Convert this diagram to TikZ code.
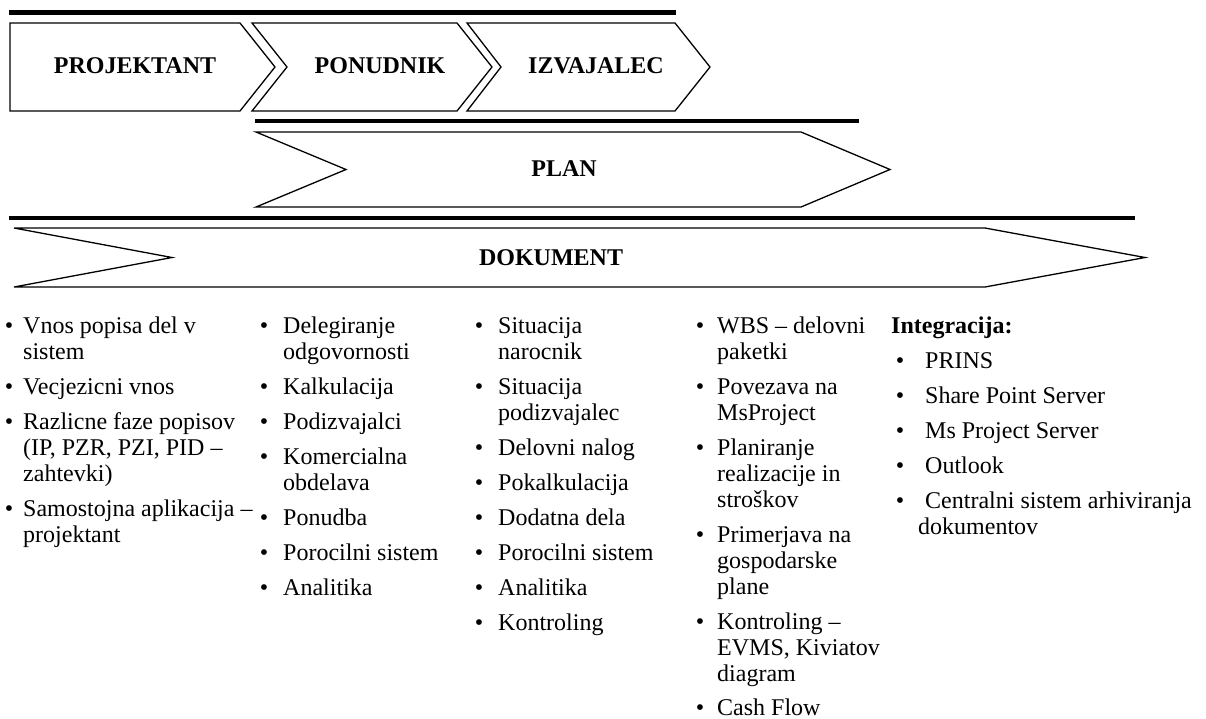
\documentclass[tikz,border=0pt]{standalone}
\usepackage{fontspec}
\setmainfont{Liberation Serif}
\newcommand{\mlines}[1]{\begin{tabular}[t]{@{}l@{}}#1\end{tabular}}
\begin{document}
\begin{tikzpicture}[x=1pt,y=-1pt,
  bar/.style={line width=4.5pt},
  chev/.style={draw, line width=1.3pt, fill=white, line join=miter},
  lbl/.style={font=\fontsize{24}{26}\selectfont\bfseries, inner sep=0pt},
  txt/.style={font=\fontsize{24}{26}\selectfont, anchor=base west, inner sep=0pt},
  bul/.style={font=\fontsize{24}{26}\selectfont, anchor=base, inner sep=0pt}]
\useasboundingbox (0,0) rectangle (1206,718);

% bars
\coordinate (b1s) at (9,12.5);   \coordinate (b1e) at (676,12.5);
\coordinate (b2s) at (255,121); \coordinate (b2e) at (859,121);
\coordinate (b3s) at (9,218);  \coordinate (b3e) at (1135,218);
\draw[bar] (b1s) -- (b1e);
\draw[bar] (b2s) -- (b2e);
\draw[bar] (b3s) -- (b3e);

% chevrons
\draw[chev] (10,23) -- (240,23) -- (275,67) -- (240,111) -- (10,111) -- cycle;
\draw[chev] (252,23) -- (457,23) -- (492,67) -- (457,111) -- (252,111) -- (287,67) -- cycle;
\draw[chev] (467,23) -- (675,23) -- (710,67) -- (675,111) -- (467,111) -- (501,67) -- cycle;
\draw[chev] (256,132) -- (801,132) -- (890,169.5) -- (801,207) -- (256,207) -- (346,169.5) -- cycle;
\draw[chev] (14,228) -- (985,228) -- (1145,257.5) -- (985,287) -- (14,287) -- (172,257.5) -- cycle;

\node[lbl] (projektant) at (135,66) {PROJEKTANT};
\node[lbl] (ponudnik) at (380,66) {PONUDNIK};
\node[lbl] (izvajalec) at (596,66) {IZVAJALEC};
\node[lbl] (plan) at (564,169) {PLAN};
\node[lbl] (dokument) at (551,258) {DOKUMENT};

% column 1
\node[bul] (c1b1) at (9,333) {•}; \node[txt] (c1t1) at (23,333) {\mlines{Vnos popisa del v\\sistem}};
\node[bul] (c1b2) at (9,394) {•}; \node[txt] (c1t2) at (23,394) {Vecjezicni vnos};
\node[bul] (c1b3) at (9,429) {•}; \node[txt] (c1t3) at (23,429) {\mlines{Razlicne faze popisov\\(IP, PZR, PZI, PID –\\zahtevki)}};
\node[bul] (c1b4) at (9,516) {•}; \node[txt] (c1t4) at (23,516) {\mlines{Samostojna aplikacija –\\projektant}};

% column 2
\node[bul] (c2b1) at (264,333) {•}; \node[txt] (c2t1) at (283,333) {\mlines{Delegiranje\\odgovornosti}};
\node[bul] (c2b2) at (264,394) {•}; \node[txt] (c2t2) at (283,394) {Kalkulacija};
\node[bul] (c2b3) at (264,429) {•}; \node[txt] (c2t3) at (283,429) {Podizvajalci};
\node[bul] (c2b4) at (264,464) {•}; \node[txt] (c2t4) at (283,464) {\mlines{Komercialna\\obdelava}};
\node[bul] (c2b5) at (264,525) {•}; \node[txt] (c2t5) at (283,525) {Ponudba};
\node[bul] (c2b6) at (264,560) {•}; \node[txt] (c2t6) at (283,560) {Porocilni sistem};
\node[bul] (c2b7) at (264,595) {•}; \node[txt] (c2t7) at (283,595) {Analitika};

% column 3
\node[bul] (c3b1) at (479,333) {•}; \node[txt] (c3t1) at (498,333) {\mlines{Situacija\\narocnik}};
\node[bul] (c3b2) at (479,394) {•}; \node[txt] (c3t2) at (498,394) {\mlines{Situacija\\podizvajalec}};
\node[bul] (c3b3) at (479,455) {•}; \node[txt] (c3t3) at (498,455) {Delovni nalog};
\node[bul] (c3b4) at (479,490) {•}; \node[txt] (c3t4) at (498,490) {Pokalkulacija};
\node[bul] (c3b5) at (479,525) {•}; \node[txt] (c3t5) at (498,525) {Dodatna dela};
\node[bul] (c3b6) at (479,560) {•}; \node[txt] (c3t6) at (498,560) {Porocilni sistem};
\node[bul] (c3b7) at (479,595) {•}; \node[txt] (c3t7) at (498,595) {Analitika};
\node[bul] (c3b8) at (479,630) {•}; \node[txt] (c3t8) at (498,630) {Kontroling};

% column 4
\node[bul] (c4b1) at (700,333) {•}; \node[txt] (c4t1) at (717,333) {\mlines{WBS – delovni\\paketki}};
\node[bul] (c4b2) at (700,394) {•}; \node[txt] (c4t2) at (717,394) {\mlines{Povezava na\\MsProject}};
\node[bul] (c4b3) at (700,455) {•}; \node[txt] (c4t3) at (717,455) {\mlines{Planiranje\\realizacije in\\stroškov}};
\node[bul] (c4b4) at (700,542) {•}; \node[txt] (c4t4) at (717,542) {\mlines{Primerjava na\\gospodarske\\plane}};
\node[bul] (c4b5) at (700,629) {•}; \node[txt] (c4t5) at (717,629) {\mlines{Kontroling –\\EVMS, Kiviatov\\diagram}};
\node[bul] (c4b6) at (700,715) {•}; \node[txt] (c4t6) at (717,715) {Cash Flow};

% column 5
\node[txt, font=\fontsize{24}{26}\selectfont\bfseries] (integ) at (891,333) {Integracija:};
\node[bul] (c5b1) at (900,368) {•}; \node[txt] (c5t1) at (925,368) {PRINS};
\node[bul] (c5b2) at (900,403) {•}; \node[txt] (c5t2) at (925,403) {Share Point Server};
\node[bul] (c5b3) at (900,438) {•}; \node[txt] (c5t3) at (925,438) {Ms Project Server};
\node[bul] (c5b4) at (900,473) {•}; \node[txt] (c5t4) at (925,473) {Outlook};
\node[bul] (c5b5) at (900,508) {•}; \node[txt] (c5t5) at (925,508) {Centralni sistem arhiviranja};
\node[txt] (c5t6) at (918,534) {dokumentov};
\end{tikzpicture}
\end{document}
